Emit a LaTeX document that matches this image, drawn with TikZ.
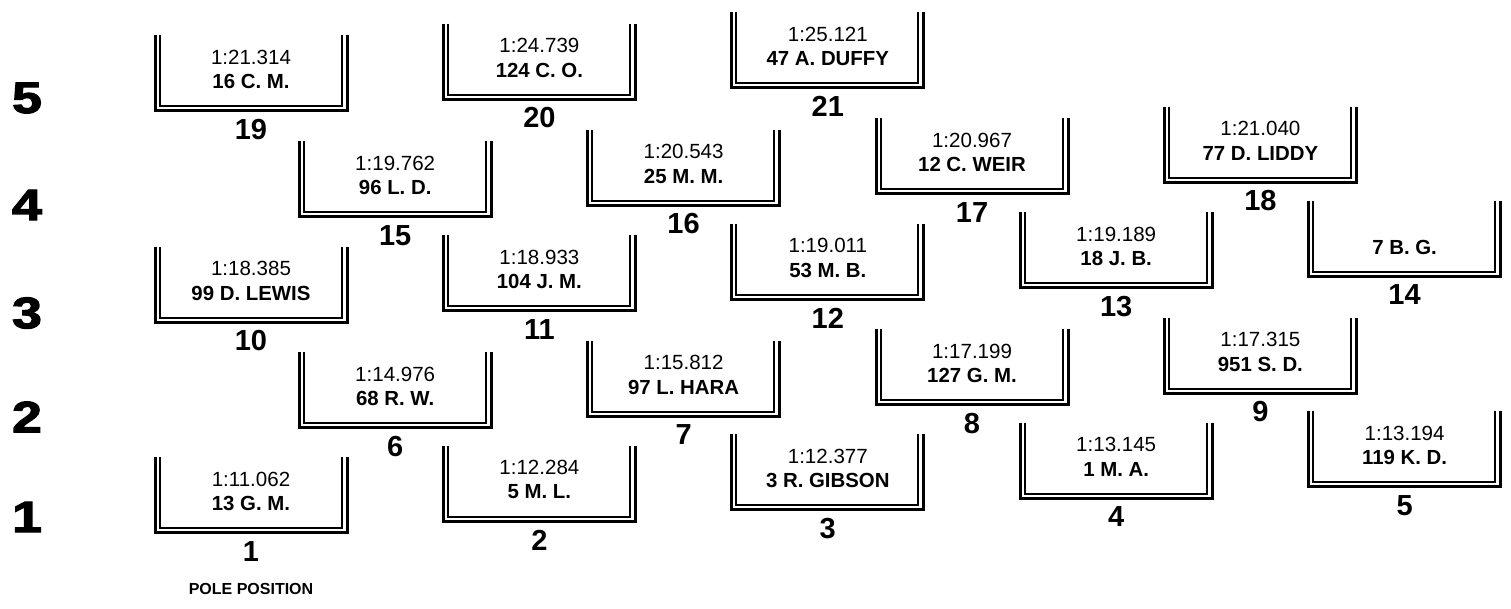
\documentclass[tikz,border=0pt]{standalone}
\usepackage{fontspec}
\setmainfont{Liberation Sans}
\newfontface\rowfont[RawFeature={embolden=2.5}]{Liberation Sans Bold}

\tikzset{every picture/.style={line width=0.75pt}}
\tikzset{
  slotouter/.style={line width=2.25pt},
  slotinner/.style={line width=1.5pt},
  laptime/.style={inner sep=0pt, font=\fontsize{15.4}{18}\selectfont},
  driver/.style={inner sep=0pt, font=\fontsize{15.3}{18}\selectfont\bfseries},
  gridno/.style={inner sep=0pt, font=\fontsize{21.75}{26}\selectfont\bfseries},
  rowno/.style={inner sep=0pt, xscale=1.22, font=\rowfont\fontsize{33}{40}\selectfont},
}

\begin{document}
\begin{tikzpicture}[x=0.75pt,y=0.75pt,yscale=-1,xscale=1]
\useasboundingbox (0,0) rectangle (1511,608);

%Row numbers
\draw (27,98) node [rowno] (r5) {5};
\draw (27,205) node [rowno] (r4) {4};
\draw (27,313) node [rowno] (r3) {3};
\draw (27,417) node [rowno] (r2) {2};
\draw (27,517) node [rowno] (r1) {1};

%Slot 1
\draw [slotouter] (155,457) -- (155,532.5) -- (347,532.5) -- (347,457) ;
\draw [slotinner] (159.5,457) -- (159.5,528) -- (341.5,528) -- (341.5,457) ;
\draw (251,479) node [laptime] (t1) {1:11.062};
\draw (251,503.5) node [driver] (d1) {13 G. M.};
\draw (251,551.5) node [gridno] (g1) {1};
\draw (251,589) node [inner sep=0pt, font=\fontsize{12}{14}\selectfont\bfseries] (pole) {POLE POSITION};

%Slot 2
\draw [slotouter] (443.4,445.5) -- (443.4,521) -- (635.4,521) -- (635.4,445.5) ;
\draw [slotinner] (447.9,445.5) -- (447.9,516.5) -- (629.9,516.5) -- (629.9,445.5) ;
\draw (539.4,467.5) node [laptime] (t2) {1:12.284};
\draw (539.4,492) node [driver] (d2) {5 M. L.};
\draw (539.4,540) node [gridno] (g2) {2};

%Slot 3
\draw [slotouter] (731.8,434) -- (731.8,509.5) -- (923.8,509.5) -- (923.8,434) ;
\draw [slotinner] (736.3,434) -- (736.3,505) -- (918.3,505) -- (918.3,434) ;
\draw (827.8,456) node [laptime] (t3) {1:12.377};
\draw (827.8,480.5) node [driver] (d3) {3 R. GIBSON};
\draw (827.8,528.5) node [gridno] (g3) {3};

%Slot 4
\draw [slotouter] (1020.2,422.5) -- (1020.2,498) -- (1212.2,498) -- (1212.2,422.5) ;
\draw [slotinner] (1024.7,422.5) -- (1024.7,493.5) -- (1206.7,493.5) -- (1206.7,422.5) ;
\draw (1116.2,444.5) node [laptime] (t4) {1:13.145};
\draw (1116.2,469) node [driver] (d4) {1 M. A.};
\draw (1116.2,517) node [gridno] (g4) {4};

%Slot 5
\draw [slotouter] (1308.6,411) -- (1308.6,486.5) -- (1500.6,486.5) -- (1500.6,411) ;
\draw [slotinner] (1313.1,411) -- (1313.1,482) -- (1495.1,482) -- (1495.1,411) ;
\draw (1404.6,433) node [laptime] (t5) {1:13.194};
\draw (1404.6,457.5) node [driver] (d5) {119 K. D.};
\draw (1404.6,505.5) node [gridno] (g5) {5};

%Slot 6
\draw [slotouter] (299.2,352) -- (299.2,427.5) -- (491.2,427.5) -- (491.2,352) ;
\draw [slotinner] (303.7,352) -- (303.7,423) -- (485.7,423) -- (485.7,352) ;
\draw (395.2,374) node [laptime] (t6) {1:14.976};
\draw (395.2,398.5) node [driver] (d6) {68 R. W.};
\draw (395.2,446.5) node [gridno] (g6) {6};

%Slot 7
\draw [slotouter] (587.6,340.5) -- (587.6,416) -- (779.6,416) -- (779.6,340.5) ;
\draw [slotinner] (592.1,340.5) -- (592.1,411.5) -- (774.1,411.5) -- (774.1,340.5) ;
\draw (683.6,362.5) node [laptime] (t7) {1:15.812};
\draw (683.6,387) node [driver] (d7) {97 L. HARA};
\draw (683.6,435) node [gridno] (g7) {7};

%Slot 8
\draw [slotouter] (876,329) -- (876,404.5) -- (1068,404.5) -- (1068,329) ;
\draw [slotinner] (880.5,329) -- (880.5,400) -- (1062.5,400) -- (1062.5,329) ;
\draw (972,351) node [laptime] (t8) {1:17.199};
\draw (972,375.5) node [driver] (d8) {127 G. M.};
\draw (972,423.5) node [gridno] (g8) {8};

%Slot 9
\draw [slotouter] (1164.4,317.5) -- (1164.4,393) -- (1356.4,393) -- (1356.4,317.5) ;
\draw [slotinner] (1168.9,317.5) -- (1168.9,388.5) -- (1350.9,388.5) -- (1350.9,317.5) ;
\draw (1260.4,339.5) node [laptime] (t9) {1:17.315};
\draw (1260.4,364) node [driver] (d9) {951 S. D.};
\draw (1260.4,412) node [gridno] (g9) {9};

%Slot 10
\draw [slotouter] (155,246.5) -- (155,322) -- (347,322) -- (347,246.5) ;
\draw [slotinner] (159.5,246.5) -- (159.5,317.5) -- (341.5,317.5) -- (341.5,246.5) ;
\draw (251,268.5) node [laptime] (t10) {1:18.385};
\draw (251,293) node [driver] (d10) {99 D. LEWIS};
\draw (251,341) node [gridno] (g10) {10};

%Slot 11
\draw [slotouter] (443.4,235) -- (443.4,310.5) -- (635.4,310.5) -- (635.4,235) ;
\draw [slotinner] (447.9,235) -- (447.9,306) -- (629.9,306) -- (629.9,235) ;
\draw (539.4,257) node [laptime] (t11) {1:18.933};
\draw (539.4,281.5) node [driver] (d11) {104 J. M.};
\draw (539.4,329.5) node [gridno] (g11) {11};

%Slot 12
\draw [slotouter] (731.8,223.5) -- (731.8,299) -- (923.8,299) -- (923.8,223.5) ;
\draw [slotinner] (736.3,223.5) -- (736.3,294.5) -- (918.3,294.5) -- (918.3,223.5) ;
\draw (827.8,245.5) node [laptime] (t12) {1:19.011};
\draw (827.8,270) node [driver] (d12) {53 M. B.};
\draw (827.8,318) node [gridno] (g12) {12};

%Slot 13
\draw [slotouter] (1020.2,212) -- (1020.2,287.5) -- (1212.2,287.5) -- (1212.2,212) ;
\draw [slotinner] (1024.7,212) -- (1024.7,283) -- (1206.7,283) -- (1206.7,212) ;
\draw (1116.2,234) node [laptime] (t13) {1:19.189};
\draw (1116.2,258.5) node [driver] (d13) {18 J. B.};
\draw (1116.2,306.5) node [gridno] (g13) {13};

%Slot 14
\draw [slotouter] (1308.6,200.5) -- (1308.6,276) -- (1500.6,276) -- (1500.6,200.5) ;
\draw [slotinner] (1313.1,200.5) -- (1313.1,271.5) -- (1495.1,271.5) -- (1495.1,200.5) ;
\draw (1404.6,247) node [driver] (d14) {7 B. G.};
\draw (1404.6,295) node [gridno] (g14) {14};

%Slot 15
\draw [slotouter] (299.2,141) -- (299.2,216.5) -- (491.2,216.5) -- (491.2,141) ;
\draw [slotinner] (303.7,141) -- (303.7,212) -- (485.7,212) -- (485.7,141) ;
\draw (395.2,163) node [laptime] (t15) {1:19.762};
\draw (395.2,187.5) node [driver] (d15) {96 L. D.};
\draw (395.2,235.5) node [gridno] (g15) {15};

%Slot 16
\draw [slotouter] (587.6,129.5) -- (587.6,205) -- (779.6,205) -- (779.6,129.5) ;
\draw [slotinner] (592.1,129.5) -- (592.1,200.5) -- (774.1,200.5) -- (774.1,129.5) ;
\draw (683.6,151.5) node [laptime] (t16) {1:20.543};
\draw (683.6,176) node [driver] (d16) {25 M. M.};
\draw (683.6,224) node [gridno] (g16) {16};

%Slot 17
\draw [slotouter] (876,118) -- (876,193.5) -- (1068,193.5) -- (1068,118) ;
\draw [slotinner] (880.5,118) -- (880.5,189) -- (1062.5,189) -- (1062.5,118) ;
\draw (972,140) node [laptime] (t17) {1:20.967};
\draw (972,164.5) node [driver] (d17) {12 C. WEIR};
\draw (972,212.5) node [gridno] (g17) {17};

%Slot 18
\draw [slotouter] (1164.4,106.5) -- (1164.4,182) -- (1356.4,182) -- (1356.4,106.5) ;
\draw [slotinner] (1168.9,106.5) -- (1168.9,177.5) -- (1350.9,177.5) -- (1350.9,106.5) ;
\draw (1260.4,128.5) node [laptime] (t18) {1:21.040};
\draw (1260.4,153) node [driver] (d18) {77 D. LIDDY};
\draw (1260.4,201) node [gridno] (g18) {18};

%Slot 19
\draw [slotouter] (155,35) -- (155,110.5) -- (347,110.5) -- (347,35) ;
\draw [slotinner] (159.5,35) -- (159.5,106) -- (341.5,106) -- (341.5,35) ;
\draw (251,57) node [laptime] (t19) {1:21.314};
\draw (251,81.5) node [driver] (d19) {16 C. M.};
\draw (251,129.5) node [gridno] (g19) {19};

%Slot 20
\draw [slotouter] (443.4,23.5) -- (443.4,99) -- (635.4,99) -- (635.4,23.5) ;
\draw [slotinner] (447.9,23.5) -- (447.9,94.5) -- (629.9,94.5) -- (629.9,23.5) ;
\draw (539.4,45.5) node [laptime] (t20) {1:24.739};
\draw (539.4,70) node [driver] (d20) {124 C. O.};
\draw (539.4,118) node [gridno] (g20) {20};

%Slot 21
\draw [slotouter] (731.8,12) -- (731.8,87.5) -- (923.8,87.5) -- (923.8,12) ;
\draw [slotinner] (736.3,12) -- (736.3,83) -- (918.3,83) -- (918.3,12) ;
\draw (827.8,34) node [laptime] (t21) {1:25.121};
\draw (827.8,58.5) node [driver] (d21) {47 A. DUFFY};
\draw (827.8,106.5) node [gridno] (g21) {21};

\end{tikzpicture}
\end{document}
